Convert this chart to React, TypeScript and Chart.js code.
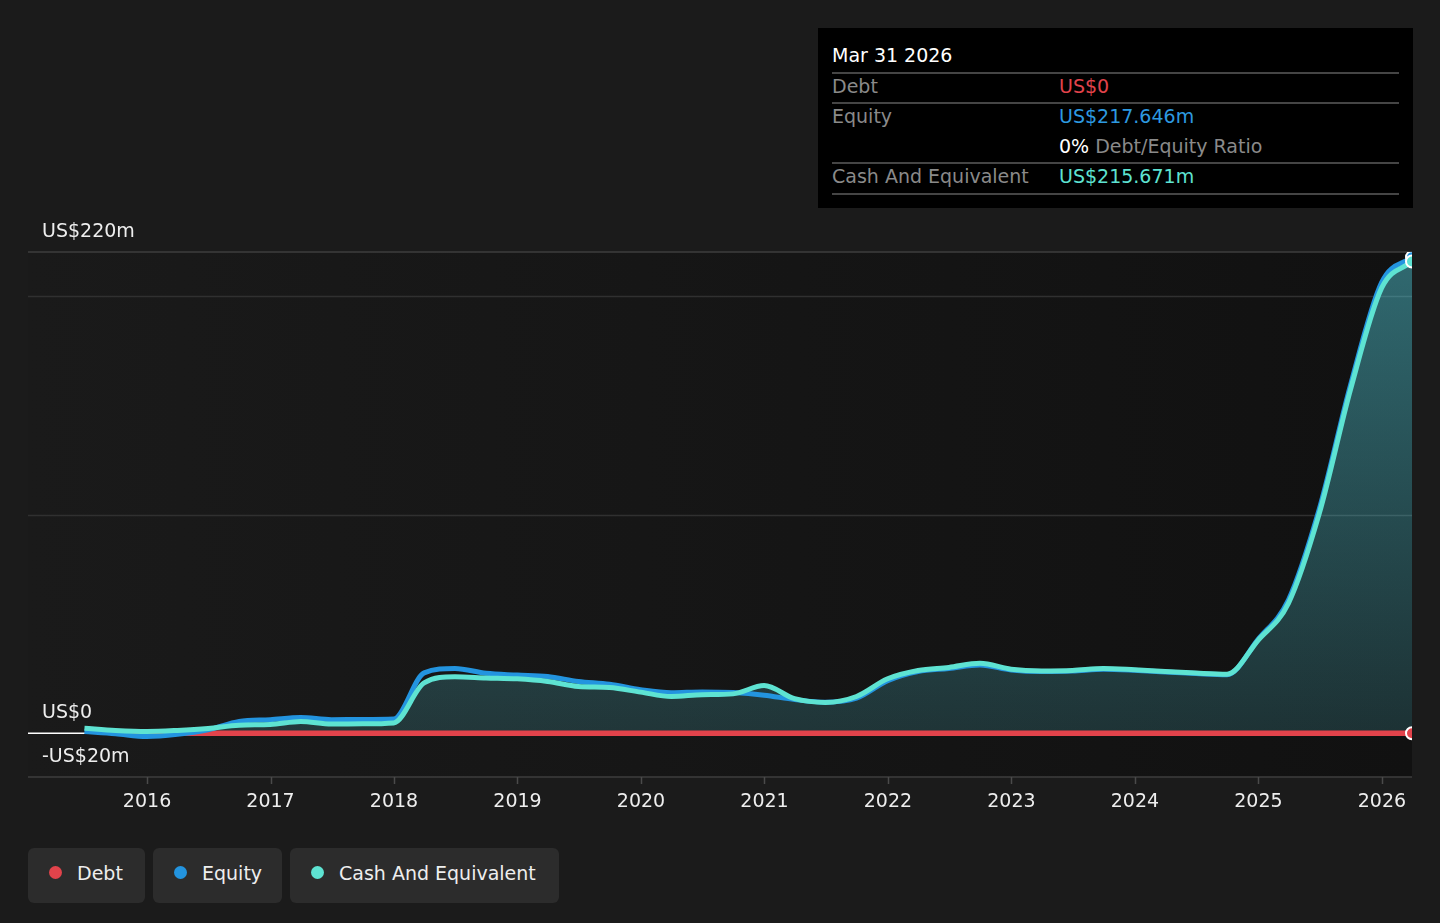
import React, { useEffect, useRef } from "react";
import { Chart, registerables } from "chart.js";

Chart.register(...registerables);

const quarterDates = [
  "2015-06-30", "2015-09-30", "2015-12-31",
  "2016-03-31", "2016-06-30", "2016-09-30", "2016-12-31",
  "2017-03-31", "2017-06-30", "2017-09-30", "2017-12-31",
  "2018-03-31", "2018-06-30", "2018-09-30", "2018-12-31",
  "2019-03-31", "2019-06-30", "2019-09-30", "2019-12-31",
  "2020-03-31", "2020-06-30", "2020-09-30", "2020-12-31",
  "2021-03-31", "2021-06-30", "2021-09-30", "2021-12-31",
  "2022-03-31", "2022-06-30", "2022-09-30", "2022-12-31",
  "2023-03-31", "2023-06-30", "2023-09-30", "2023-12-31",
  "2024-03-31", "2024-06-30", "2024-09-30", "2024-12-31",
  "2025-03-31", "2025-06-30", "2025-09-30", "2025-12-31",
  "2026-03-31",
];

const debtValues: (number | null)[] = [
  null, 0, 0,
  0, 0, 0, 0,
  0, 0, 0, 0,
  0, 0, 0, 0,
  0, 0, 0, 0,
  0, 0, 0, 0,
  0, 0, 0, 0,
  0, 0, 0, 0,
  0, 0, 0, 0,
  0, 0, 0, 0,
  0, 0, 0, 0,
  0,
];

const equityValues = [
  0.8, -0.2, -1.5,
  -0.5, 1.6, 5.4, 6.2,
  7.2, 6.2, 6.3, 6.5,
  27.6, 29.6, 27.4, 26.6,
  25.9, 23.7, 22.4, 19.9,
  18.5, 18.9, 18.6, 17.4,
  15.4, 14.2, 16.0, 24.0,
  28.2, 29.6, 31.2, 28.9,
  28.2, 28.4, 29.3, 28.8,
  28.0, 27.3, 26.8, 42.9,
  61.0, 102.5, 159.0, 206.0,
  217.646,
];

const cashValues = [
  2.3, 1.3, 0.8,
  1.3, 2.2, 3.7, 4.0,
  5.4, 4.2, 4.3, 4.7,
  23.0, 25.8, 25.3, 24.9,
  23.7, 21.4, 20.9, 18.8,
  16.8, 17.6, 18.0, 21.8,
  15.8, 14.1, 16.8, 24.9,
  28.7, 30.1, 32.0, 29.3,
  28.5, 28.7, 29.6, 29.0,
  28.2, 27.5, 27.0, 42.5,
  59.5, 100.5, 157.0, 203.5,
  215.671,
];

const yearTicks = [2016, 2017, 2018, 2019, 2020, 2021, 2022, 2023, 2024, 2025, 2026];
const yLabelValues = [220, 0, -20];
const yLabelTexts = ["US$220m", "US$0", "-US$20m"];
const gridValues = [100, 200];

const X_MIN = 2015.036;
const Y_MIN = -20;
const Y_MAX = 220;

const DEBT = "#e2434b";
const EQUITY = "#2394df";
const CASH = "#5ee3d2";
const FONT = '"DejaVu Sans", "Noto Sans", sans-serif';

function toDecimalYear(s: string): number {
  const [y, m, d] = s.split("-").map(Number);
  const start = Date.UTC(y, 0, 1);
  const end = Date.UTC(y + 1, 0, 1);
  const t = Date.UTC(y, m - 1, d);
  return y + (t - start) / (end - start);
}

const xs = quarterDates.map(toDecimalYear);
const lastIndex = xs.length - 1;

const decorPlugin = {
  id: "decor",
  beforeDraw(chart: any) {
    const { ctx, chartArea } = chart;
    const x = chart.scales.x;
    const y = chart.scales.y;
    ctx.save();
    const bg = ctx.createLinearGradient(chartArea.left, 0, chartArea.right, 0);
    bg.addColorStop(0, "#1a1a1a");
    bg.addColorStop(1, "#111111");
    ctx.fillStyle = bg;
    ctx.fillRect(chartArea.left, chartArea.top, chartArea.right - chartArea.left, chartArea.bottom - chartArea.top);

    ctx.lineWidth = 1.5;
    ctx.strokeStyle = "#303030";
    for (const v of gridValues) {
      const py = Math.round(y.getPixelForValue(v)) + 0.5;
      ctx.beginPath();
      ctx.moveTo(chartArea.left, py);
      ctx.lineTo(chartArea.right, py);
      ctx.stroke();
    }
    ctx.strokeStyle = "#3e3e3e";
    for (const v of [Y_MAX, Y_MIN]) {
      const py = Math.round(y.getPixelForValue(v));
      ctx.beginPath();
      ctx.moveTo(chartArea.left, py);
      ctx.lineTo(chartArea.right, py);
      ctx.stroke();
    }
    ctx.strokeStyle = "#ffffff";
    ctx.lineWidth = 1.5;
    const zy = y.getPixelForValue(0);
    ctx.beginPath();
    ctx.moveTo(chartArea.left, zy);
    ctx.lineTo(chartArea.right, zy);
    ctx.stroke();
    ctx.strokeStyle = "#4a4a4a";
    ctx.lineWidth = 1.5;
    for (const t of yearTicks) {
      const px = Math.round(x.getPixelForValue(t)) + 0.5;
      ctx.beginPath();
      ctx.moveTo(px, chartArea.bottom);
      ctx.lineTo(px, chartArea.bottom + 7);
      ctx.stroke();
    }
    ctx.restore();
  },
  afterDraw(chart: any) {
    const { ctx, chartArea } = chart;
    const x = chart.scales.x;
    const y = chart.scales.y;
    ctx.save();
    ctx.font = `19px ${FONT}`;
    ctx.fillStyle = "#eeeeee";
    ctx.textAlign = "left";
    ctx.textBaseline = "middle";
    yLabelValues.forEach((v, i) => {
      ctx.fillText(yLabelTexts[i], 42, y.getPixelForValue(v) - 20);
    });
    ctx.textAlign = "center";
    for (const t of yearTicks) {
      ctx.fillText(String(t), x.getPixelForValue(t), chartArea.bottom + 25);
    }
    ctx.restore();
  },
};

function lastPointRadius(c: any) {
  return c.dataIndex === lastIndex ? 6 : 0;
}

export default function App() {
  const canvasRef = useRef<HTMLCanvasElement | null>(null);

  useEffect(() => {
    const canvas = canvasRef.current;
    if (!canvas) return;
    const chart = new Chart(canvas, {
      type: "line",
      data: {
        datasets: [
          {
            label: "Cash And Equivalent",
            data: xs.map((x, i) => ({ x, y: cashValues[i] })),
            borderColor: CASH,
            borderWidth: 5,
            fill: "origin",
            backgroundColor: (c: any) => {
              const ch = c.chart;
              const area = ch.chartArea;
              if (!area) return "rgba(88,219,235,0.3)";
              const g = ch.ctx.createLinearGradient(0, area.top, 0, ch.scales.y.getPixelForValue(0));
              g.addColorStop(0, "rgba(88,219,235,0.44)");
              g.addColorStop(1, "rgba(88,219,235,0.16)");
              return g;
            },
            cubicInterpolationMode: "monotone",
            pointRadius: lastPointRadius,
            pointBackgroundColor: CASH,
            pointBorderColor: "#ffffff",
            pointBorderWidth: 2,
          },
          {
            label: "Equity",
            data: xs.map((x, i) => ({ x, y: equityValues[i] })),
            borderColor: EQUITY,
            borderWidth: 5,
            fill: false,
            cubicInterpolationMode: "monotone",
            pointRadius: lastPointRadius,
            pointBackgroundColor: EQUITY,
            pointBorderColor: "#ffffff",
            pointBorderWidth: 2,
          },
          {
            label: "Debt",
            data: xs.map((x, i) => ({ x, y: debtValues[i] })),
            borderColor: DEBT,
            borderWidth: 5.5,
            fill: false,
            spanGaps: false,
            cubicInterpolationMode: "monotone",
            pointRadius: lastPointRadius,
            pointBackgroundColor: DEBT,
            pointBorderColor: "#ffffff",
            pointBorderWidth: 2,
          },
        ] as any,
      },
      options: {
        animation: false,
        responsive: false,
        devicePixelRatio: 1,
        events: [],
        layout: { padding: { left: 28, right: 28, top: 252, bottom: 146 } },
        scales: {
          x: { type: "linear", min: X_MIN, max: xs[lastIndex], display: false },
          y: { type: "linear", min: Y_MIN, max: Y_MAX, display: false },
        },
        plugins: {
          legend: { display: false },
          tooltip: { enabled: false },
          filler: { drawTime: "beforeDatasetsDraw" } as any,
        },
      } as any,
      plugins: [decorPlugin],
    });
    return () => chart.destroy();
  }, []);

  const rowLine: React.CSSProperties = {
    position: "absolute",
    left: 14,
    width: 567,
    height: 1.5,
    background: "#454545",
  };
  const textBase: React.CSSProperties = {
    position: "absolute",
    fontSize: 19,
    lineHeight: "24px",
    whiteSpace: "nowrap",
  };

  const legendItems = [
    { label: "Debt", color: DEBT, width: 117 },
    { label: "Equity", color: EQUITY, width: 129 },
    { label: "Cash And Equivalent", color: CASH, width: 269 },
  ];

  return (
    <div
      style={{
        position: "absolute",
        left: 0,
        top: 0,
        width: 1440,
        height: 923,
        background: "#1b1b1b",
        fontFamily: FONT,
        overflow: "hidden",
      }}
    >
      <canvas ref={canvasRef} width={1440} height={923} style={{ position: "absolute", left: 0, top: 0, width: 1440, height: 923 }} />

      <div style={{ position: "absolute", left: 818, top: 28, width: 595, height: 180, background: "#000000" }}>
        <div style={{ ...textBase, left: 14, top: 15, color: "#ffffff" }}>Mar 31 2026</div>
        <div style={{ ...rowLine, top: 44 }} />
        <div style={{ ...textBase, left: 14, top: 46, color: "#8a8a8a" }}>Debt</div>
        <div style={{ ...textBase, left: 241, top: 46, color: DEBT }}>US$0</div>
        <div style={{ ...rowLine, top: 74 }} />
        <div style={{ ...textBase, left: 14, top: 76, color: "#8a8a8a" }}>Equity</div>
        <div style={{ ...textBase, left: 241, top: 76, color: "#2d9ae0" }}>US$217.646m</div>
        <div style={{ ...textBase, left: 241, top: 106, color: "#8a8a8a" }}>
          <span style={{ color: "#ffffff" }}>0%</span> Debt/Equity Ratio
        </div>
        <div style={{ ...rowLine, top: 134 }} />
        <div style={{ ...textBase, left: 14, top: 136, color: "#8a8a8a" }}>Cash And Equivalent</div>
        <div style={{ ...textBase, left: 241, top: 136, color: CASH }}>US$215.671m</div>
        <div style={{ ...rowLine, top: 165 }} />
      </div>

      <div style={{ position: "absolute", left: 28, top: 848, display: "flex", gap: 8 }}>
        {legendItems.map((it) => (
          <div
            key={it.label}
            style={{
              width: it.width,
              height: 55,
              boxSizing: "border-box",
              background: "#2c2c2c",
              borderRadius: 6,
              display: "flex",
              alignItems: "center",
              paddingLeft: 21,
              paddingBottom: 6,
            }}
          >
            <span style={{ width: 13, height: 13, borderRadius: "50%", background: it.color, display: "inline-block", flex: "none" }} />
            <span style={{ marginLeft: 15, fontSize: 19, lineHeight: "24px", color: "#eeeeee", whiteSpace: "nowrap" }}>{it.label}</span>
          </div>
        ))}
      </div>
    </div>
  );
}
